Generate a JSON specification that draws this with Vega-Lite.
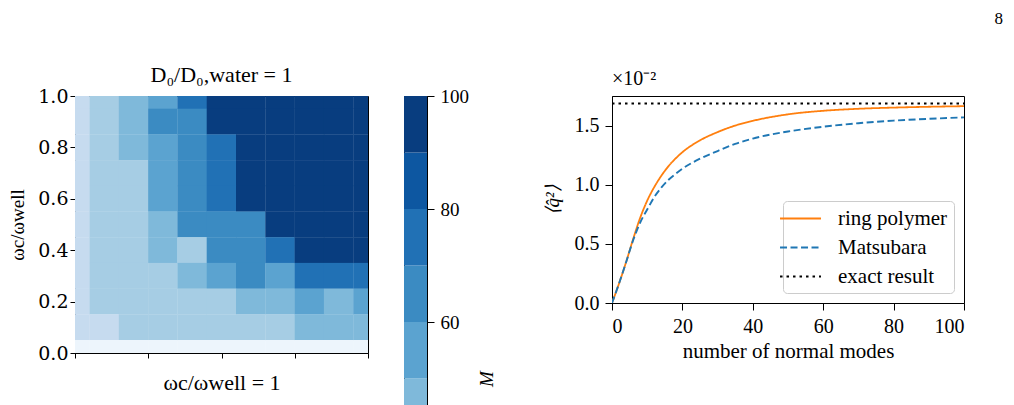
{
  "$schema": "https://vega.github.io/schema/vega-lite/v6.json",
  "background": "white",
  "padding": {"left": 8, "top": 9, "right": 0, "bottom": 0},
  "title": {"text": "8", "anchor": "end", "fontSize": 17, "font": "Liberation Serif", "fontWeight": "normal", "color": "black", "dx": 38, "offset": 36},
  "config": {
    "font": "Liberation Serif",
    "view": {"stroke": "black", "strokeWidth": 1},
    "axis": {"grid": false, "domainColor": "black", "tickColor": "black", "labelColor": "black", "titleColor": "black", "labelFont": "Liberation Serif", "titleFont": "Liberation Serif", "titleFontWeight": "normal", "tickSize": 5, "domainWidth": 1, "tickWidth": 1},
    "title": {"font": "Liberation Serif", "fontWeight": "normal", "color": "black"}
  },
  "spacing": 45,
  "resolve": {"scale": {"color": "independent", "strokeDash": "independent", "strokeWidth": "independent"}, "legend": {"color": "independent", "strokeDash": "independent", "strokeWidth": "independent"}},
  "hconcat": [
    {
      "spacing": 36,
      "bounds": "flush",
      "resolve": {"scale": {"color": "independent"}, "legend": {"color": "independent"}},
      "hconcat": [
        {
          "width": 293,
          "height": 257,
          "title": {"text": "D₀/D₀,water = 1", "fontSize": 22, "offset": 0, "font": "Liberation Serif"},
          "data": {"values": [
            {"x":0,"y":1,"M":25},{"x":0.1,"y":1,"M":35},{"x":0.2,"y":1,"M":45},{"x":0.3,"y":1,"M":55},{"x":0.4,"y":1,"M":75},{"x":0.5,"y":1,"M":95},{"x":0.6,"y":1,"M":95},{"x":0.7,"y":1,"M":95},{"x":0.8,"y":1,"M":95},{"x":0.9,"y":1,"M":95},{"x":1,"y":1,"M":95},
            {"x":0,"y":0.9,"M":25},{"x":0.1,"y":0.9,"M":35},{"x":0.2,"y":0.9,"M":45},{"x":0.3,"y":0.9,"M":65},{"x":0.4,"y":0.9,"M":65},{"x":0.5,"y":0.9,"M":95},{"x":0.6,"y":0.9,"M":95},{"x":0.7,"y":0.9,"M":95},{"x":0.8,"y":0.9,"M":95},{"x":0.9,"y":0.9,"M":95},{"x":1,"y":0.9,"M":95},
            {"x":0,"y":0.8,"M":25},{"x":0.1,"y":0.8,"M":35},{"x":0.2,"y":0.8,"M":45},{"x":0.3,"y":0.8,"M":55},{"x":0.4,"y":0.8,"M":65},{"x":0.5,"y":0.8,"M":75},{"x":0.6,"y":0.8,"M":95},{"x":0.7,"y":0.8,"M":95},{"x":0.8,"y":0.8,"M":95},{"x":0.9,"y":0.8,"M":95},{"x":1,"y":0.8,"M":95},
            {"x":0,"y":0.7,"M":25},{"x":0.1,"y":0.7,"M":35},{"x":0.2,"y":0.7,"M":35},{"x":0.3,"y":0.7,"M":55},{"x":0.4,"y":0.7,"M":65},{"x":0.5,"y":0.7,"M":75},{"x":0.6,"y":0.7,"M":95},{"x":0.7,"y":0.7,"M":95},{"x":0.8,"y":0.7,"M":95},{"x":0.9,"y":0.7,"M":95},{"x":1,"y":0.7,"M":95},
            {"x":0,"y":0.6,"M":25},{"x":0.1,"y":0.6,"M":35},{"x":0.2,"y":0.6,"M":35},{"x":0.3,"y":0.6,"M":55},{"x":0.4,"y":0.6,"M":65},{"x":0.5,"y":0.6,"M":75},{"x":0.6,"y":0.6,"M":95},{"x":0.7,"y":0.6,"M":95},{"x":0.8,"y":0.6,"M":95},{"x":0.9,"y":0.6,"M":95},{"x":1,"y":0.6,"M":95},
            {"x":0,"y":0.5,"M":25},{"x":0.1,"y":0.5,"M":35},{"x":0.2,"y":0.5,"M":35},{"x":0.3,"y":0.5,"M":45},{"x":0.4,"y":0.5,"M":65},{"x":0.5,"y":0.5,"M":65},{"x":0.6,"y":0.5,"M":65},{"x":0.7,"y":0.5,"M":95},{"x":0.8,"y":0.5,"M":95},{"x":0.9,"y":0.5,"M":95},{"x":1,"y":0.5,"M":95},
            {"x":0,"y":0.4,"M":25},{"x":0.1,"y":0.4,"M":35},{"x":0.2,"y":0.4,"M":35},{"x":0.3,"y":0.4,"M":45},{"x":0.4,"y":0.4,"M":35},{"x":0.5,"y":0.4,"M":65},{"x":0.6,"y":0.4,"M":65},{"x":0.7,"y":0.4,"M":75},{"x":0.8,"y":0.4,"M":95},{"x":0.9,"y":0.4,"M":95},{"x":1,"y":0.4,"M":95},
            {"x":0,"y":0.3,"M":25},{"x":0.1,"y":0.3,"M":35},{"x":0.2,"y":0.3,"M":35},{"x":0.3,"y":0.3,"M":35},{"x":0.4,"y":0.3,"M":45},{"x":0.5,"y":0.3,"M":55},{"x":0.6,"y":0.3,"M":65},{"x":0.7,"y":0.3,"M":55},{"x":0.8,"y":0.3,"M":75},{"x":0.9,"y":0.3,"M":75},{"x":1,"y":0.3,"M":75},
            {"x":0,"y":0.2,"M":25},{"x":0.1,"y":0.2,"M":35},{"x":0.2,"y":0.2,"M":35},{"x":0.3,"y":0.2,"M":35},{"x":0.4,"y":0.2,"M":35},{"x":0.5,"y":0.2,"M":35},{"x":0.6,"y":0.2,"M":45},{"x":0.7,"y":0.2,"M":45},{"x":0.8,"y":0.2,"M":55},{"x":0.9,"y":0.2,"M":45},{"x":1,"y":0.2,"M":55},
            {"x":0,"y":0.1,"M":25},{"x":0.1,"y":0.1,"M":25},{"x":0.2,"y":0.1,"M":35},{"x":0.3,"y":0.1,"M":35},{"x":0.4,"y":0.1,"M":35},{"x":0.5,"y":0.1,"M":35},{"x":0.6,"y":0.1,"M":35},{"x":0.7,"y":0.1,"M":35},{"x":0.8,"y":0.1,"M":45},{"x":0.9,"y":0.1,"M":45},{"x":1,"y":0.1,"M":45},
            {"x":0,"y":0,"M":5},{"x":0.1,"y":0,"M":5},{"x":0.2,"y":0,"M":5},{"x":0.3,"y":0,"M":5},{"x":0.4,"y":0,"M":5},{"x":0.5,"y":0,"M":5},{"x":0.6,"y":0,"M":5},{"x":0.7,"y":0,"M":5},{"x":0.8,"y":0,"M":5},{"x":0.9,"y":0,"M":5},{"x":1,"y":0,"M":5}
          ]},
          "mark": {"type": "rect", "width": 29.6, "height": 26, "clip": true},
          "encoding": {
            "x": {"field": "x", "type": "quantitative", "scale": {"domain": [0, 1], "nice": false, "zero": false},
                  "axis": {"values": [0, 0.25, 0.5, 0.75, 1], "labels": false, "title": "ωc/ωwell = 1", "titleFont": "Liberation Serif", "titleFontSize": 22, "titlePadding": 14}},
            "y": {"field": "y", "type": "quantitative", "scale": {"domain": [0, 1], "nice": false},
                  "axis": {"values": [0, 0.2, 0.4, 0.6, 0.8, 1], "format": ".1f", "labelFont": "DejaVu Serif", "labelFontSize": 19, "labelPadding": 2, "title": "ωc/ωwell", "titleFont": "Liberation Serif", "titleFontSize": 19, "titlePadding": 10}},
            "color": {"field": "M", "type": "quantitative", "legend": null,
                      "scale": {"type": "threshold", "domain": [10, 20, 30, 40, 50, 60, 70, 80, 90],
                                "range": ["#edf5fc", "#d9e8f5", "#c6dbef", "#a6cde4", "#7fb9da", "#5ba3d0", "#3b8bc2", "#2171b5", "#0d57a1", "#083d7f"]}}
          }
        },
        {
          "width": 23,
          "height": 565,
          "data": {"values": [
            {"lo": 0, "hi": 10}, {"lo": 10, "hi": 20}, {"lo": 20, "hi": 30}, {"lo": 30, "hi": 40}, {"lo": 40, "hi": 50},
            {"lo": 50, "hi": 60}, {"lo": 60, "hi": 70}, {"lo": 70, "hi": 80}, {"lo": 80, "hi": 90}, {"lo": 90, "hi": 100}
          ]},
          "mark": {"type": "rect"},
          "encoding": {
            "y": {"field": "lo", "type": "quantitative", "scale": {"domain": [0, 100], "nice": false},
                  "axis": {"orient": "right", "values": [0, 20, 40, 60, 80, 100], "tickSize": 7, "labelFont": "Liberation Serif", "labelFontSize": 19, "labelPadding": 6, "title": "M", "titleFont": "Liberation Serif", "titleFontSize": 19, "titleFontStyle": "italic", "titleAngle": 270, "titlePadding": 28}},
            "y2": {"field": "hi"},
            "color": {"field": "lo", "type": "quantitative", "legend": null,
                      "scale": {"type": "threshold", "domain": [10, 20, 30, 40, 50, 60, 70, 80, 90],
                                "range": ["#edf5fc", "#d9e8f5", "#c6dbef", "#a6cde4", "#7fb9da", "#5ba3d0", "#3b8bc2", "#2171b5", "#0d57a1", "#083d7f"]}}
          }
        }
      ]
    },
    {
      "width": 352,
      "height": 207,
      "title": {"text": "×10⁻²", "anchor": "start", "frame": "group", "fontSize": 20, "offset": 7, "font": "Liberation Serif"},
      "data": {"values": [
        {"n":0,"q":0,"s":"ring polymer"},{"n":2,"q":0.165,"s":"ring polymer"},{"n":4,"q":0.345,"s":"ring polymer"},{"n":6,"q":0.54,"s":"ring polymer"},{"n":8,"q":0.72,"s":"ring polymer"},{"n":10,"q":0.865,"s":"ring polymer"},{"n":12,"q":0.98,"s":"ring polymer"},{"n":14,"q":1.075,"s":"ring polymer"},{"n":16,"q":1.155,"s":"ring polymer"},{"n":18,"q":1.22,"s":"ring polymer"},{"n":20,"q":1.275,"s":"ring polymer"},{"n":25,"q":1.375,"s":"ring polymer"},{"n":30,"q":1.445,"s":"ring polymer"},{"n":35,"q":1.5,"s":"ring polymer"},{"n":40,"q":1.54,"s":"ring polymer"},{"n":50,"q":1.595,"s":"ring polymer"},{"n":60,"q":1.625,"s":"ring polymer"},{"n":70,"q":1.642,"s":"ring polymer"},{"n":80,"q":1.652,"s":"ring polymer"},{"n":90,"q":1.659,"s":"ring polymer"},{"n":100,"q":1.664,"s":"ring polymer"},
        {"n":0,"q":0,"s":"Matsubara"},{"n":2,"q":0.165,"s":"Matsubara"},{"n":4,"q":0.345,"s":"Matsubara"},{"n":6,"q":0.53,"s":"Matsubara"},{"n":8,"q":0.68,"s":"Matsubara"},{"n":10,"q":0.79,"s":"Matsubara"},{"n":12,"q":0.895,"s":"Matsubara"},{"n":14,"q":0.975,"s":"Matsubara"},{"n":16,"q":1.04,"s":"Matsubara"},{"n":18,"q":1.09,"s":"Matsubara"},{"n":20,"q":1.135,"s":"Matsubara"},{"n":25,"q":1.22,"s":"Matsubara"},{"n":30,"q":1.285,"s":"Matsubara"},{"n":35,"q":1.345,"s":"Matsubara"},{"n":40,"q":1.39,"s":"Matsubara"},{"n":50,"q":1.45,"s":"Matsubara"},{"n":60,"q":1.49,"s":"Matsubara"},{"n":70,"q":1.52,"s":"Matsubara"},{"n":80,"q":1.542,"s":"Matsubara"},{"n":90,"q":1.557,"s":"Matsubara"},{"n":100,"q":1.569,"s":"Matsubara"},
        {"n":0,"q":1.687,"s":"exact result"},{"n":100,"q":1.687,"s":"exact result"}
      ]},
      "mark": {"type": "line", "interpolate": "monotone", "clip": true},
      "encoding": {
        "x": {"field": "n", "type": "quantitative", "scale": {"domain": [0, 100], "nice": false},
              "axis": {"values": [0, 20, 40, 60, 80, 100], "tickSize": 7, "labelFontSize": 20, "labelPadding": 6, "title": "number of normal modes", "titleFontSize": 21, "titlePadding": 4}},
        "y": {"field": "q", "type": "quantitative", "scale": {"domain": [0, 1.75], "nice": false},
              "axis": {"values": [0, 0.5, 1, 1.5], "format": ".1f", "tickSize": 7, "labelFontSize": 20, "labelPadding": 6, "title": "⟨q̂²⟩", "titleFontSize": 19, "titleFontStyle": "italic", "titlePadding": 12}},
        "color": {"field": "s", "type": "nominal", "sort": null,
                  "scale": {"domain": ["ring polymer", "Matsubara", "exact result"], "range": ["#ff7f0e", "#1f77b4", "#000000"]},
                  "legend": {"title": null, "orient": "bottom-right", "offset": 10, "symbolType": "M-1.95,0H1.95", "symbolSize": 441, "symbolStrokeWidth": 2, "labelFontSize": 21, "labelFont": "Liberation Serif", "labelColor": "black", "labelOffset": 26, "rowPadding": 7, "padding": 6, "strokeColor": "#cccccc", "fillColor": "white", "cornerRadius": 4}},
        "strokeDash": {"field": "s", "type": "nominal", "sort": null,
                       "scale": {"domain": ["ring polymer", "Matsubara", "exact result"], "range": [[1, 0], [7, 3.5], [2.5, 4]]},
                       "legend": {"title": null, "orient": "bottom-right", "offset": 10, "symbolType": "M-1.95,0H1.95", "symbolSize": 441, "symbolStrokeWidth": 2, "labelFontSize": 21, "labelFont": "Liberation Serif", "labelColor": "black", "labelOffset": 26, "rowPadding": 7, "padding": 6, "strokeColor": "#cccccc", "fillColor": "white", "cornerRadius": 4}},
        "strokeWidth": {"field": "s", "type": "nominal", "legend": null,
                        "scale": {"domain": ["ring polymer", "Matsubara", "exact result"], "range": [1.8, 2, 2.7]}}
      }
    }
  ]
}
